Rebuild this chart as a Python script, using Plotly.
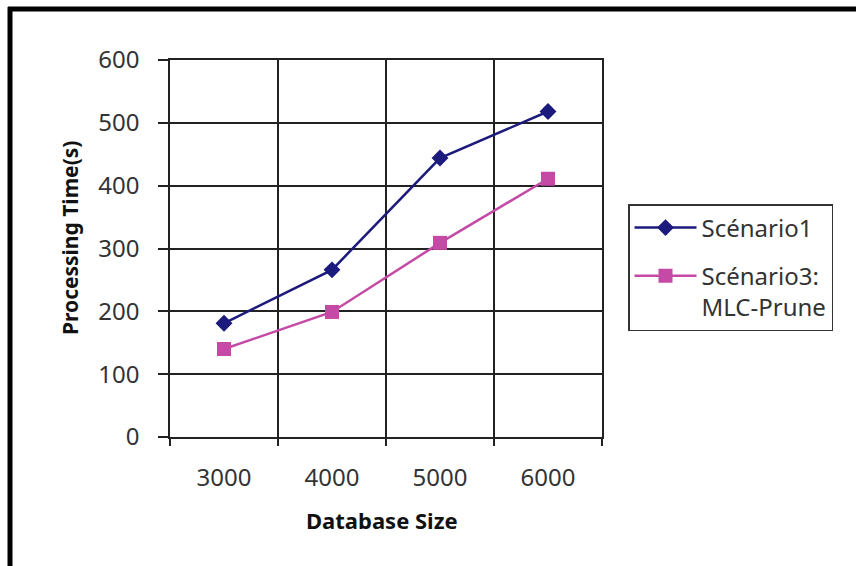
import plotly.graph_objects as go

categories = ["3000", "4000", "5000", "6000"]
scenario1 = [181, 266, 444, 518]
scenario3 = [140, 199, 309, 411]
y_ticks = [0, 100, 200, 300, 400, 500, 600]

W, H = 856, 566
L, R, T, B = 170, 254, 60, 129
pw = W - L - R
ph = H - T - B


def px_x(px):
    return (px - L) / pw


def px_y(py):
    return 1 - (py - T) / ph


fig = go.Figure()
fig.add_trace(go.Scatter(
    x=categories, y=scenario1, name="Scénario1", mode="lines+markers",
    line=dict(color="#1c1a7c", width=2.5),
    marker=dict(symbol="diamond", size=13, color="#1c1a7c"),
    legendgroup="a",
))
fig.add_trace(go.Scatter(
    x=categories, y=scenario3, name="Scénario3:<br>MLC-Prune", mode="lines+markers",
    line=dict(color="#c44aa6", width=2.5),
    marker=dict(symbol="square", size=14, color="#c44aa6"),
    legendgroup="b",
))

tickfont = dict(family="Noto Sans, sans-serif", size=24, color="#333333")

fig.update_layout(
    width=W, height=H,
    margin=dict(l=L, r=R, t=T, b=B, pad=0),
    paper_bgcolor="white", plot_bgcolor="white",
    xaxis=dict(
        type="category", tickson="boundaries", range=[-0.5, 3.5],
        showgrid=True, gridcolor="#222222", gridwidth=1.5,
        showline=True, linecolor="#222222", linewidth=1.5, mirror=True,
        ticks="outside", ticklen=7, tickcolor="#222222", tickwidth=1.5,
        tickfont=tickfont, ticklabelstandoff=18,
    ),
    yaxis=dict(
        range=[0, 600], tickvals=y_ticks,
        showgrid=True, gridcolor="#222222", gridwidth=1.5,
        showline=True, linecolor="#222222", linewidth=1.5, mirror=True,
        ticks="outside", ticklen=10, tickcolor="#222222", tickwidth=1.5,
        tickfont=tickfont, zeroline=False, ticklabelstandoff=14,
    ),
    legend=dict(
        x=px_x(628), y=px_y(204), xanchor="left", yanchor="top",
        bordercolor="#333333", borderwidth=1.5, bgcolor="white",
        font=dict(family="Noto Sans, sans-serif", size=24, color="#333333"),
        tracegroupgap=14, itemwidth=62, valign="top",
    ),
    showlegend=True,
)

fig.add_annotation(
    text="<b>Processing Time(s)</b>", textangle=-90, showarrow=False,
    xref="paper", yref="paper", x=px_x(70), y=px_y(238),
    xanchor="center", yanchor="middle",
    font=dict(family="Noto Sans, sans-serif", size=21, color="#111111"),
)
fig.add_annotation(
    text="<b>Database Size</b>", showarrow=False,
    xref="paper", yref="paper", x=px_x(382), y=px_y(520),
    xanchor="center", yanchor="middle",
    font=dict(family="Noto Sans, sans-serif", size=22, color="#111111"),
)

# outer frame (left and top heavy lines)
fig.add_shape(type="line", xref="paper", yref="paper",
              x0=px_x(10), x1=px_x(10), y0=px_y(7), y1=px_y(H + 5),
              line=dict(color="black", width=5))
fig.add_shape(type="line", xref="paper", yref="paper",
              x0=px_x(8), x1=px_x(W + 5), y0=px_y(9), y1=px_y(9),
              line=dict(color="black", width=5))

fig.write_html("out.html")
